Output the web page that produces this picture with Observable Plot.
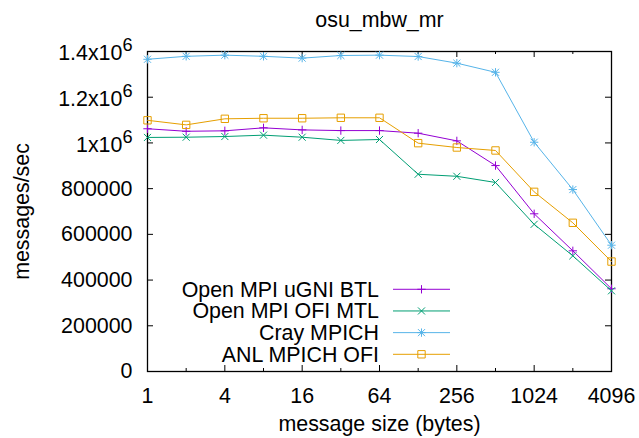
<!DOCTYPE html>
<html><head><meta charset="utf-8">
<script src="https://cdn.jsdelivr.net/npm/d3@7"></script>
<script src="https://cdn.jsdelivr.net/npm/@observablehq/plot@0.6"></script>
<style>body{margin:0;background:#fff} #chart{width:639px;height:438px}</style>
</head><body><div id="chart"></div>
<script>
// ---- data ----
const sizes = [1,2,4,8,16,32,64,128,256,512,1024,2048,4096];
const uGNI   = [1062000,1051000,1053000,1066000,1057000,1054000,1054000,1042600,1009000,901000,690000,528000,362000];
const ofiMTL = [1024000,1025000,1028000,1034000,1025000,1011000,1015000,863000,854000,827000,644000,506000,353000];
const cray   = [1366000,1379000,1384000,1379000,1371000,1382500,1384000,1378000,1349000,1309000,1003000,796000,552600];
const anl    = [1099000,1079000,1105500,1108000,1108000,1110000,1110000,999000,980000,967000,786000,650500,481000];
const seriesNames = ["Open MPI uGNI BTL","Open MPI OFI MTL","Cray MPICH","ANL MPICH OFI"];
const xTicks = [1,4,16,64,256,1024,4096];
const xMinor = [2,8,32,128,512,2048];
const yTicks = [0,200000,400000,600000,800000,1000000,1200000,1400000];
const yTickLabels = ["0","200000","400000","600000","800000","1x10^6","1.2x10^6","1.4x10^6"];
const titleText = "osu_mbw_mr";
const xLabel = "message size (bytes)";
const yLabel = "messages/sec";

// ---- styling ----
const colors = ["#9400d3","#009e73","#56b4e9","#e69f00"];
const symbolSets = [["plus"],["times"],["plus","times"],["square2"]];
const symbolR = {plus:2.8, times:3.3, square2:4.7};
const d3Sym = {plus:d3.symbolPlus, times:d3.symbolTimes, square2:d3.symbolSquare2};
const allValues = [uGNI, ofiMTL, cray, anl];

const W=639, H=438, mL=147, mR=28, mT=51, mB=67;
const fw=W-mL-mR, fh=H-mT-mB;
const font = "'Liberation Sans', Arial, sans-serif";
const fs = 21.4;

const rows = allValues.map((vals, si) => sizes.map((s,i)=>({size:s, value:vals[i], series:seriesNames[si]})));

const marks = [
  Plot.frame({stroke:"#000", strokeWidth:1.3}),
  Plot.axisX(xTicks, {tickSize:0, tickPadding:16, tickFormat:d=>String(d), label:xLabel, labelAnchor:"center", labelArrow:"none", labelOffset:59}),
  Plot.axisY(yTicks, {tickSize:0, tickPadding:15, tickFormat:d=>yTickLabels[yTicks.indexOf(d)], label:yLabel, labelAnchor:"center", labelArrow:"none", labelOffset:134}),
  Plot.tickX(xTicks, {x:d=>d, insetTop:fh-6, stroke:"#000"}),
  Plot.tickX(xTicks, {x:d=>d, insetBottom:fh-6, stroke:"#000"}),
  Plot.tickX(xMinor, {x:d=>d, insetTop:fh-3, stroke:"#000"}),
  Plot.tickX(xMinor, {x:d=>d, insetBottom:fh-3, stroke:"#000"}),
  Plot.tickY(yTicks, {y:d=>d, insetRight:fw-6, stroke:"#000"}),
  Plot.tickY(yTicks, {y:d=>d, insetLeft:fw-6, stroke:"#000"}),
];
rows.forEach((data, si) => {
  marks.push(Plot.line(data, {x:"size", y:"value", stroke:colors[si], strokeWidth:1}));
  symbolSets[si].forEach(sym => {
    marks.push(Plot.dot(data, {x:"size", y:"value", symbol:sym, r:symbolR[sym], stroke:colors[si], fill:"none", strokeWidth:1}));
  });
});
marks.push(Plot.text([titleText], {text:d=>d, frameAnchor:"top", dy:-25, lineAnchor:"bottom", fontSize:fs}));

const chart = Plot.plot({
  width:W, height:H, marginLeft:mL, marginRight:mR, marginTop:mT, marginBottom:mB,
  style:{fontFamily:font, fontSize:fs+"px", background:"#fff", color:"#000"},
  x:{type:"log", base:2, domain:[1,4096]},
  y:{domain:[0,1400000]},
  marks
});

// superscripts on y tick labels
d3.select(chart).selectAll('g[aria-label="y-axis tick label"] text').each(function(){
  const t = this.textContent;
  if (t.includes("^")) {
    const [b,e] = t.split("^");
    this.textContent = b;
    d3.select(this).append("tspan").attr("dy","-0.5em").attr("font-size","0.85em").text(e);
    d3.select(this).attr("transform", (this.getAttribute("transform")||"") + " translate(0,2)");
  }
});

// legend inside the frame (bottom-left area)
const svg = d3.select(chart);
const legend = svg.append("g").attr("font-family", font).attr("font-size", fs);
const textEnd = mL + fw/2, lineX1 = textEnd + 14, lineX2 = textEnd + 71;
const rowStep = 21.67, lastRowY = mT + fh - 16.7;
seriesNames.forEach((name, si) => {
  const y = lastRowY - (seriesNames.length-1-si)*rowStep;
  legend.append("text").attr("x", textEnd).attr("y", y).attr("dy","0.35em").attr("text-anchor","end").attr("fill","#000").text(name);
  legend.append("line").attr("x1", lineX1).attr("x2", lineX2).attr("y1", y).attr("y2", y).attr("stroke", colors[si]).attr("stroke-width", 1);
  symbolSets[si].forEach(sym => {
    const r = symbolR[sym];
    legend.append("path").attr("d", d3.symbol(d3Sym[sym], Math.PI*r*r)())
      .attr("transform", `translate(${(lineX1+lineX2)/2},${y})`)
      .attr("fill","none").attr("stroke", colors[si]).attr("stroke-width", 1);
  });
});

document.getElementById("chart").appendChild(chart);
</script>
</body></html>
